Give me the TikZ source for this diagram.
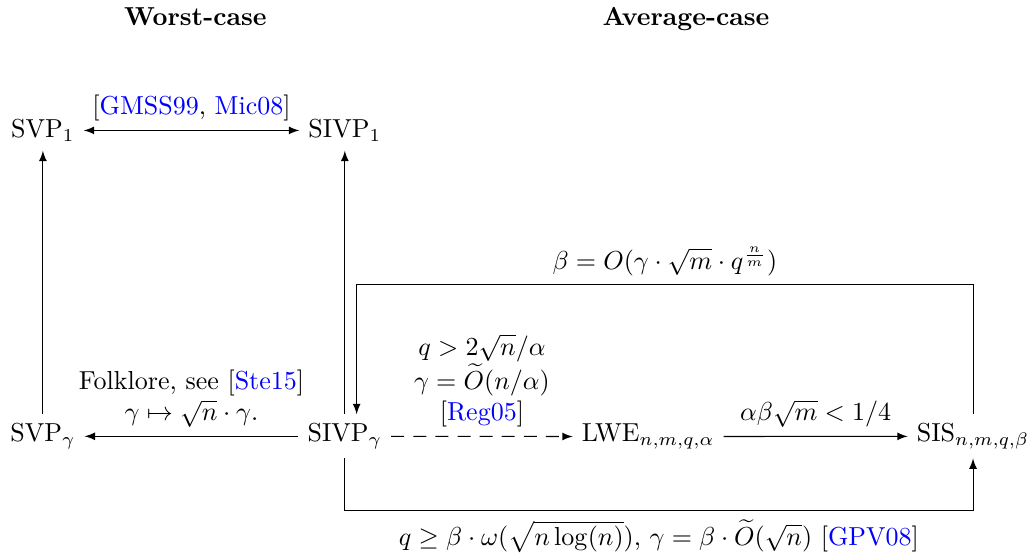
\documentclass[tikz,border=0pt]{standalone}
\usetikzlibrary{arrows}
\newcommand{\refb}[1]{\textcolor{blue}{#1}}
\begin{document}
\begin{tikzpicture}[>=latex, prob/.style={anchor=base}, lbl/.style={align=center}]
    \useasboundingbox (0,0) rectangle (13.92,7.51);

    % Column headings
    \node[prob, font=\bfseries] (worst) at (2.64,7.16) {Worst-case};
    \node[prob, font=\bfseries] (avg) at (9.27,7.16) {Average-case};

    % Problems
    \node[prob] (svp1) at (0.58,5.65) {SVP$_1$};
    \node[prob] (sivp1) at (4.66,5.65) {SIVP$_1$};
    \node[prob] (svpg) at (0.58,1.54) {SVP$_\gamma$};
    \node[prob] (sivpg) at (4.66,1.54) {SIVP$_\gamma$};
    \node[prob] (lwe) at (8.76,1.54) {LWE$_{n,m,q,\alpha}$};
    \node[prob] (sis) at (13.15,1.54) {SIS$_{n,m,q,\beta}$};

    % Corners of the long routes
    \coordinate (top) at (4.82,3.66);
    \coordinate (bot) at (0,0.61);

    % Worst-case reductions
    \draw[<->] (svp1) -- node[above] {[\refb{GMSS99}, \refb{Mic08}]} (sivp1);
    \draw[->] (svpg) -- (svp1);
    \draw[->] (sivpg) -- (sivp1);
    \draw[->] (sivpg) -- node[above, lbl] {Folklore, see [\refb{Ste15}]\\ $\gamma\mapsto\sqrt{n}\cdot\gamma$.} (svpg);

    % Average-case reductions
    \draw[->, dash pattern=on 5pt off 3.5pt] (sivpg) -- node[above, lbl] {$q>2\sqrt{n}/\alpha$\\ $\gamma=\widetilde{O}(n/\alpha)$\\ {[}\refb{Reg05}{]}} (lwe);
    \draw[->] (lwe) -- node[above] {$\alpha\beta\sqrt{m}<1/4$} (sis);
    \draw[->] (sis.north) |- node[pos=0.75, above] {$\beta=O(\gamma\cdot\sqrt{m}\cdot q^{\frac{n}{m}})$} (top) -- (top |- sivpg.north);
    \draw[->] (sivpg.south) -- (sivpg.south |- bot) -- node[below] {$q\geq\beta\cdot\omega(\sqrt{n\log(n)})$, $\gamma=\beta\cdot\widetilde{O}(\sqrt{n})$ [\refb{GPV08}]} (sis.south |- bot) -- (sis.south);
\end{tikzpicture}
\end{document}
